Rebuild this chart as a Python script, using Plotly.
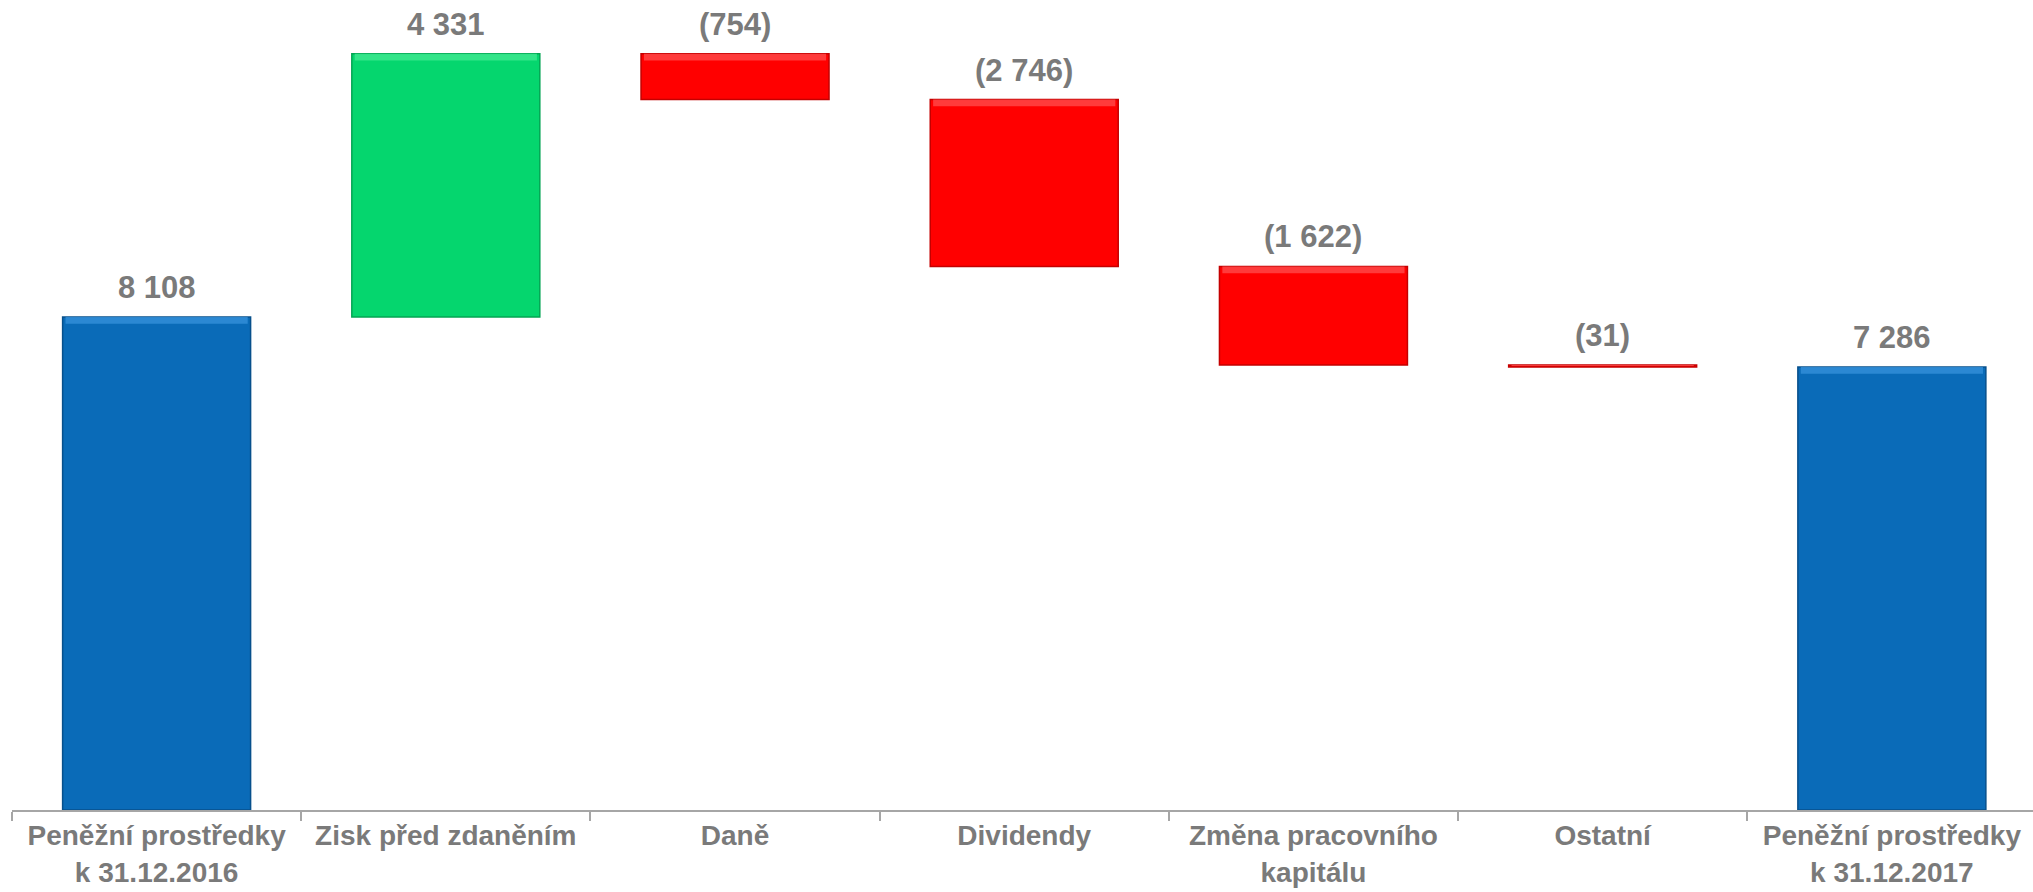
import numpy as np
import plotly.graph_objects as go

# Cash bridge 2016 -> 2017 (values in the chart's units)
categories = [
    "Peněžní prostředky<br>k 31.12.2016",
    "Zisk před zdaněním",
    "Daně",
    "Dividendy",
    "Změna pracovního<br>kapitálu",
    "Ostatní",
    "Peněžní prostředky<br>k 31.12.2017",
]
values = [8108, 4331, -754, -2746, -1622, -31, 7286]
measures = ["total", "relative", "relative", "relative", "relative", "relative", "total"]
value_labels = ["8 108", "4 331", "(754)", "(2 746)", "(1 622)", "(31)", "7 286"]

BLUE, BLUE_EDGE, BLUE_HI = "#0A6BB8", "#07508C", "#3390DA"
GREEN, GREEN_EDGE, GREEN_HI = "#05D66E", "#03A553", "#3FE890"
RED, RED_EDGE, RED_HI = "#FF0000", "#C40000", "#FF4A4A"
GREY = "#7A7A7A"
AXIS = "#A6A6A6"
FONT = "Liberation Sans, Arial, sans-serif"
Y_MAX = 13322
BEVEL = 110   # height of the lighter top strip, in data units

# floating bar geometry from the running total
bases, heights, fills, edges, highs = [], [], [], [], []
running = 0.0
for v, m in zip(values, measures):
    if m == "total":
        bases.append(0.0)
        heights.append(v)
        running = v
        fills.append(BLUE); edges.append(BLUE_EDGE); highs.append(BLUE_HI)
    else:
        bases.append(min(running, running + v))
        heights.append(abs(v))
        running += v
        up = v > 0
        fills.append(GREEN if up else RED)
        edges.append(GREEN_EDGE if up else RED_EDGE)
        highs.append(GREEN_HI if up else RED_HI)

tops = np.array(bases) + np.array(heights)
strip = np.minimum(BEVEL, np.array(heights) / 3)

fig = go.Figure()
fig.add_trace(go.Bar(
    x=categories,
    y=heights,
    base=bases,
    width=0.65,
    marker=dict(color=fills, line=dict(color=edges, width=1.5)),
    hoverinfo="skip",
    showlegend=False,
))
# lighter bevel on the top edge
fig.add_trace(go.Bar(
    x=categories,
    y=strip,
    base=tops - strip,
    width=0.63,
    marker=dict(color=highs, line=dict(width=0), opacity=0.8),
    hoverinfo="skip",
    showlegend=False,
))

for cat, top, lbl in zip(categories, tops, value_labels):
    fig.add_annotation(
        x=cat, y=top, text=lbl,
        xref="x", yref="y",
        yanchor="bottom", yshift=10,
        showarrow=False,
        font=dict(family=FONT, size=31, color=GREY, weight="bold"),
    )

fig.update_layout(
    width=2033, height=892,
    margin=dict(l=12, r=0, t=0, b=82),
    paper_bgcolor="white",
    plot_bgcolor="white",
    barmode="overlay",
)
fig.update_xaxes(
    type="category",
    range=[-0.5, 6.488],   # last category runs slightly past the right edge
    automargin=False,      # keep the baseline at y=810, labels hang below
    tickson="boundaries",
    ticks="outside",
    ticklen=9,
    tickwidth=1.5,
    tickcolor=AXIS,
    showline=True,
    linecolor=AXIS,
    linewidth=1.5,
    showgrid=False,
    ticklabelstandoff=0,
    tickfont=dict(family=FONT, size=28, color=GREY, weight="bold"),
)
fig.update_yaxes(
    range=[0, Y_MAX],
    visible=False,
    showgrid=False,
    zeroline=False,
)

# drop the browser's default 8px body margin so the figure sits at 0,0
fig.write_html(
    "out.html",
    config={"displayModeBar": False},
    post_script="document.body.style.margin = '0';",
)
